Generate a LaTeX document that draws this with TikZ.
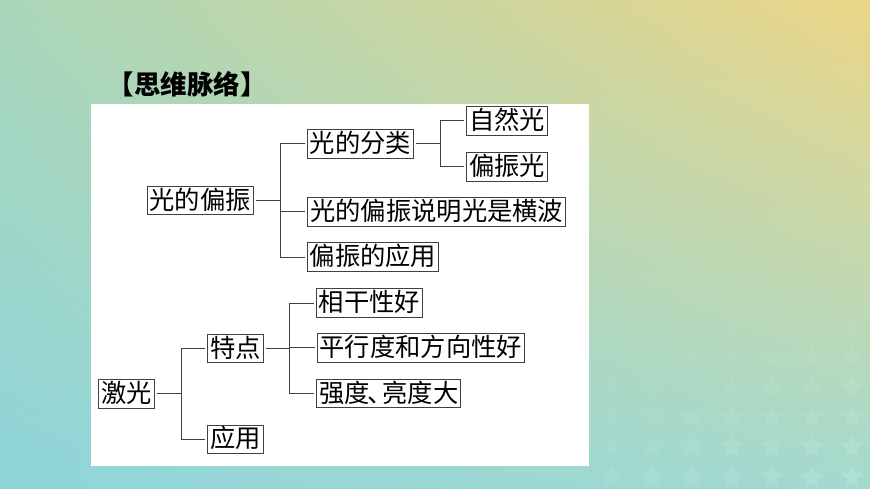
\documentclass[tikz,border=0pt]{standalone}
\usepackage{fontspec}
\usetikzlibrary{shadings}
\setmainfont{Noto Sans CJK SC}
\definecolor{bgTL}{HTML}{A9D6B9}
\definecolor{bgTR}{HTML}{ECD687}
\definecolor{bgBL}{HTML}{8FD5DA}
\definecolor{bgBR}{HTML}{A3DACF}
\definecolor{linecol}{HTML}{404040}
\tikzset{
  termbox/.style={draw=linecol,line width=1pt,fill=white,font=\fontsize{25.3}{26}\selectfont,
    inner xsep=2.4pt,inner ysep=0pt,text height=22.8pt,text depth=5.7pt,text=black,outer sep=2.6pt},
  link/.style={draw=linecol,line width=1pt},
  titletext/.style={font=\fontsize{26.5}{27}\selectfont\bfseries,inner sep=0pt,text=black}
}
\begin{document}
\begin{tikzpicture}[x=1pt,y=-1pt]
\useasboundingbox (0,0) rectangle (870,489);
\shade[upper left=bgTL,upper right=bgTR,lower left=bgBL,lower right=bgBR] (0,0) rectangle (870,489);
\foreach \x in {612,652,692,732,772,812,852}{
  \foreach \y in {327,357,387,417,447,477}{
    \pgfmathsetmacro{\op}{max(0,0.13*(0.5*(\x-600)/252+0.8*(\y-300)/177)-0.03)}
    \fill[white,opacity=\op,rounded corners=1pt,shift={(\x,\y)}]
      (-90:12) -- (-54:5.2) -- (-18:12) -- (18:5.2) -- (54:12) -- (90:5.2) -- (126:12) -- (162:5.2) -- (198:12) -- (234:5.2) -- cycle;
  }
}
\fill[white] (91,104) rectangle (589,466);
\node[titletext,anchor=center] (title) at (187,84) {【思维脉络】};
% upper tree
\node[termbox] (pol) at (200,200.7) {光的偏振};
\node[termbox] (cls) at (360.3,144) {光的分类};
\node[termbox] (nat) at (507.3,121) {自然光};
\node[termbox] (pl) at (507.3,166.8) {偏振光};
\node[termbox] (wave) at (436.7,211.8) {光的偏振说明光是横波};
\node[termbox] (app) at (373,257) {偏振的应用};
% lower tree
\node[termbox] (laser) at (126.3,393.8) {激光};
\node[termbox] (feat) at (235.5,348.7) {特点};
\node[termbox] (use) at (235.5,439.3) {应用};
\node[termbox] (coh) at (369.5,303) {相干性好};
\node[termbox] (par) at (420.7,347.8) {平行度和方向性好};
\node[termbox] (int) at (388.8,393.7) {强度\kern-.1em 、\kern-.4em 亮度大};
% trunks
\coordinate (t1) at (280,201);
\coordinate (t2) at (440.3,144.5);
\coordinate (t3) at (181.3,394.5);
\coordinate (t4) at (289.3,349);
% connectors
\draw[link] (pol.east) -- (pol.east -| t1);
\draw[link] (pol.east -| t1) |- (cls.west);
\draw[link] (pol.east -| t1) |- (wave.west);
\draw[link] (pol.east -| t1) |- (app.west);
\draw[link] (cls.east) -- (cls.east -| t2);
\draw[link] (cls.east -| t2) |- (nat.west);
\draw[link] (cls.east -| t2) |- (pl.west);
\draw[link] (laser.east) -- (laser.east -| t3);
\draw[link] (laser.east -| t3) |- (feat.west);
\draw[link] (laser.east -| t3) |- (use.west);
\draw[link] (feat.east) -- (feat.east -| t4);
\draw[link] (feat.east -| t4) |- (coh.west);
\draw[link] (feat.east -| t4) |- (par.west);
\draw[link] (feat.east -| t4) |- (int.west);
\end{tikzpicture}
\end{document}
